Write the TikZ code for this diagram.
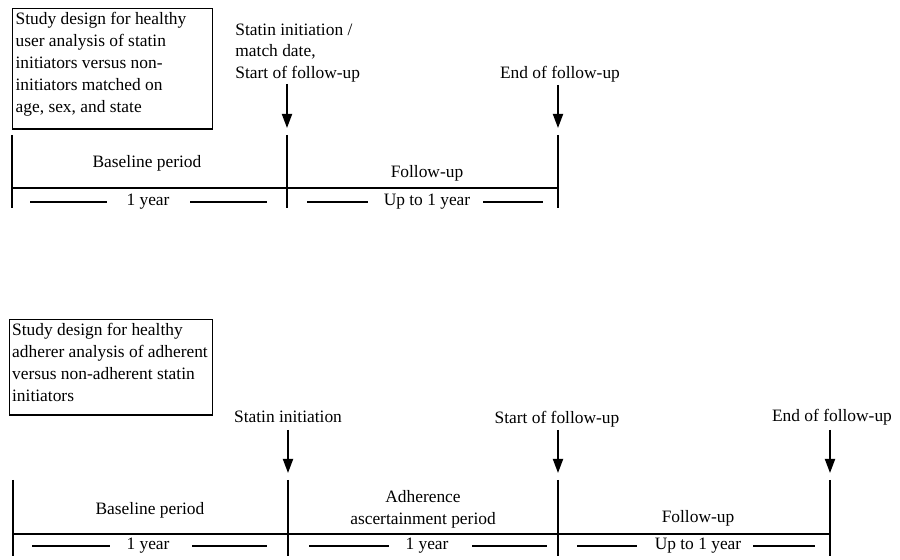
\documentclass[tikz,border=0pt]{standalone}
\usepackage{fontspec}
\setmainfont{Liberation Serif}
\usetikzlibrary{arrows.meta, positioning}
\tikzset{
    notebox/.style={rectangle, draw=black, line width=0.65pt, anchor=north west, align=flush left, inner xsep=1.5pt, inner ysep=2pt, font=\fontsize{8.7}{10.9}\selectfont},
    periodlabel/.style={align=center, inner sep=0pt, font=\fontsize{8.7}{10.9}\selectfont},
    tickline/.style={line width=0.9pt},
    axisline/.style={line width=0.65pt},
    spanline/.style={line width=0.65pt},
    eventarrow/.style={-{Triangle[width=5pt, length=7pt]}, line width=0.9pt, shorten >=3.5pt}
}

\begin{document}
\begin{tikzpicture}[x=0.5pt, y=-0.5pt]
\useasboundingbox (0,0) rectangle (900,560);

% healthy user design
\node[notebox, text width=97pt, text depth=50pt] (userbox) at (12,8) {Study design for healthy\\user analysis of statin\\initiators versus non-\\initiators matched on\\age, sex, and state};

\coordinate (u0) at (12,135);  \coordinate (u0b) at (12,208);
\coordinate (u1) at (287,135); \coordinate (u1b) at (287,208);
\coordinate (u2) at (558,135); \coordinate (u2b) at (558,208);
\coordinate (uax) at (12,188); \coordinate (uaxe) at (558,188);
\coordinate (u1tail) at (287,84);
\coordinate (u2tail) at (558,85);

\node[periodlabel, anchor=west, align=left] (uinit) at (235,53) {Statin initiation /\\match date,\\Start of follow-up};
\node[periodlabel] (uend) at (560,74) {End of follow-up};
\node[periodlabel] (ubase) at (147,163) {Baseline period};
\node[periodlabel] (ufollow) at (427,173) {Follow-up};
\node[periodlabel] (uyear) at (148,202) {1 year};
\node[periodlabel] (uupto) at (427,202) {Up to 1 year};

\draw[tickline] (u0) -- (u0b);
\draw[tickline] (u1) -- (u1b);
\draw[tickline] (u2) -- (u2b);
\draw[axisline] (uax) -- (uaxe);
\draw[eventarrow] (u1tail) -- (u1);
\draw[eventarrow] (u2tail) -- (u2);

% healthy adherer design
\node[notebox, inner xsep=1.25pt, text width=99pt, text depth=37.5pt] (adhbox) at (9,319) {Study design for healthy\\adherer analysis of adherent\\versus non-adherent statin\\initiators};

\coordinate (a0) at (13,480);  \coordinate (a0b) at (13,556);
\coordinate (a1) at (288,480); \coordinate (a1b) at (288,556);
\coordinate (a2) at (558,480); \coordinate (a2b) at (558,556);
\coordinate (a3) at (830,480); \coordinate (a3b) at (830,556);
\coordinate (aax) at (13,534); \coordinate (aaxe) at (830,534);
\coordinate (a1tail) at (288,430);
\coordinate (a2tail) at (558,430);
\coordinate (a3tail) at (830,430);

\node[periodlabel] (ainit) at (288,417) {Statin initiation};
\node[periodlabel] (astart) at (557,419) {Start of follow-up};
\node[periodlabel] (aend) at (832,417) {End of follow-up};
\node[periodlabel] (abase) at (150,510) {Baseline period};
\node[periodlabel] (aascert) at (423,509) {Adherence\\ascertainment period};
\node[periodlabel] (afollow) at (698,518) {Follow-up};
\node[periodlabel] (ayear) at (148,546) {1 year};
\node[periodlabel] (ayear2) at (427,546) {1 year};
\node[periodlabel] (aupto) at (698,546) {Up to 1 year};

\draw[tickline] (a0) -- (a0b);
\draw[tickline] (a1) -- (a1b);
\draw[tickline] (a2) -- (a2b);
\draw[tickline] (a3) -- (a3b);
\draw[axisline] (aax) -- (aaxe);
\draw[eventarrow] (a1tail) -- (a1);
\draw[eventarrow] (a2tail) -- (a2);
\draw[eventarrow] (a3tail) -- (a3);

% span dashes beside the durations
\foreach \xa/\xb/\yy in {30/107/202, 190/267/202, 307/368/202, 483/543/202,
                         32/110/546, 192/267/546, 309/389/546, 472/547/546,
                         577/637/546, 753/815/546}
    \draw[spanline] (\xa,\yy) -- (\xb,\yy);

\end{tikzpicture}
\end{document}
